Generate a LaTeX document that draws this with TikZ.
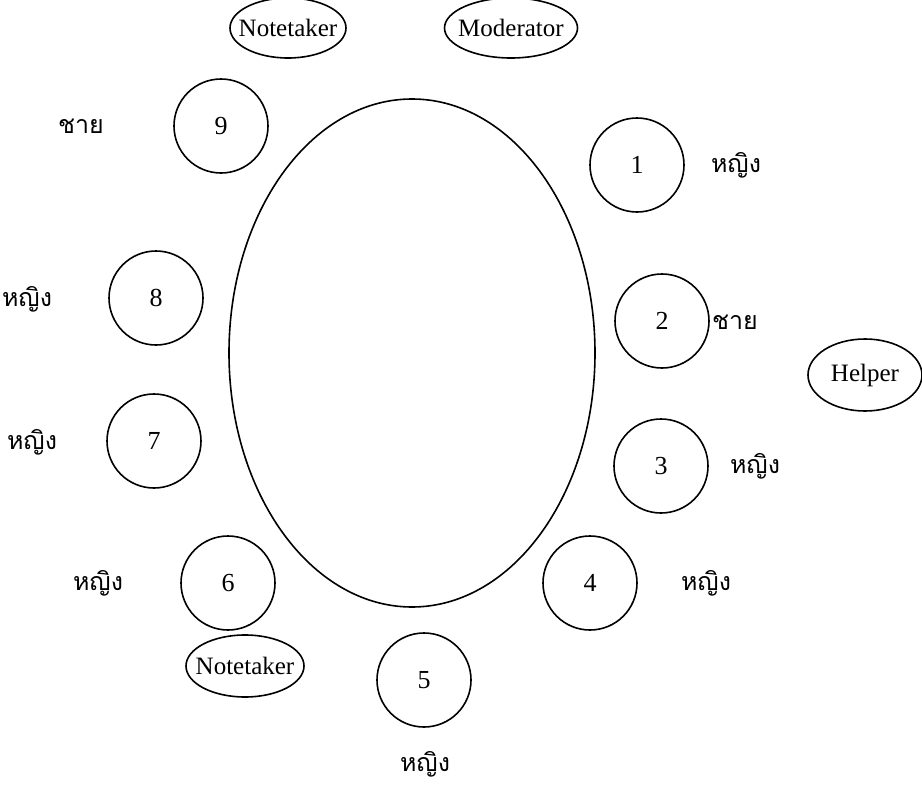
\documentclass[tikz,border=0pt]{standalone}
\usepackage{fontspec}
\setmainfont{Liberation Serif}
\newfontfamily\thaifont[Script=Thai]{Loma}
\usetikzlibrary{shapes.geometric}
\begin{document}
\begin{tikzpicture}[x=1pt,y=-1pt,
  seat/.style={circle,draw,line width=1.6pt,minimum size=94pt,inner sep=0pt,font=\fontsize{26}{28}\selectfont},
  role/.style={ellipse,draw,line width=1.6pt,inner xsep=-12pt,inner ysep=0pt,minimum width=116pt,minimum height=60pt,font=\fontsize{25}{28}\selectfont},
  lab/.style={font=\thaifont\fontsize{25}{28}\selectfont}]
\useasboundingbox (0,0) rectangle (922,787);
\node[ellipse,draw,line width=1.6pt,inner sep=0pt,minimum width=366pt,minimum height=508pt] (table) at (412,353) {};
\node[role] (nt1) at (288,28) {Notetaker};
\node[role,minimum width=133pt] (mod) at (511,28) {Moderator};
\node[role,minimum width=114pt,minimum height=72pt] (helper) at (865,375) {Helper};
\node[role,minimum width=118pt,minimum height=62pt] (nt2) at (245,666) {Notetaker};
\node[seat] (s9) at (221,126) {9};
\node[seat] (s1) at (637,165) {1};
\node[seat] (s8) at (156,298) {8};
\node[seat] (s2) at (662,321) {2};
\node[seat] (s7) at (154,441) {7};
\node[seat] (s3) at (661,466) {3};
\node[seat] (s6) at (228,583) {6};
\node[seat] (s4) at (590,583) {4};
\node[seat] (s5) at (424,680) {5};
\node[lab] (l9) at (81,126) {ชาย};
\node[lab] (l1) at (736,165) {หญิง};
\node[lab] (l8) at (27,299) {หญิง};
\node[lab] (l2) at (735,322) {ชาย};
\node[lab] (l7) at (32,442) {หญิง};
\node[lab] (l3) at (755,466) {หญิง};
\node[lab] (l6) at (98,583) {หญิง};
\node[lab] (l4) at (706,583) {หญิง};
\node[lab] (l5) at (425,764) {หญิง};
\end{tikzpicture}
\end{document}
